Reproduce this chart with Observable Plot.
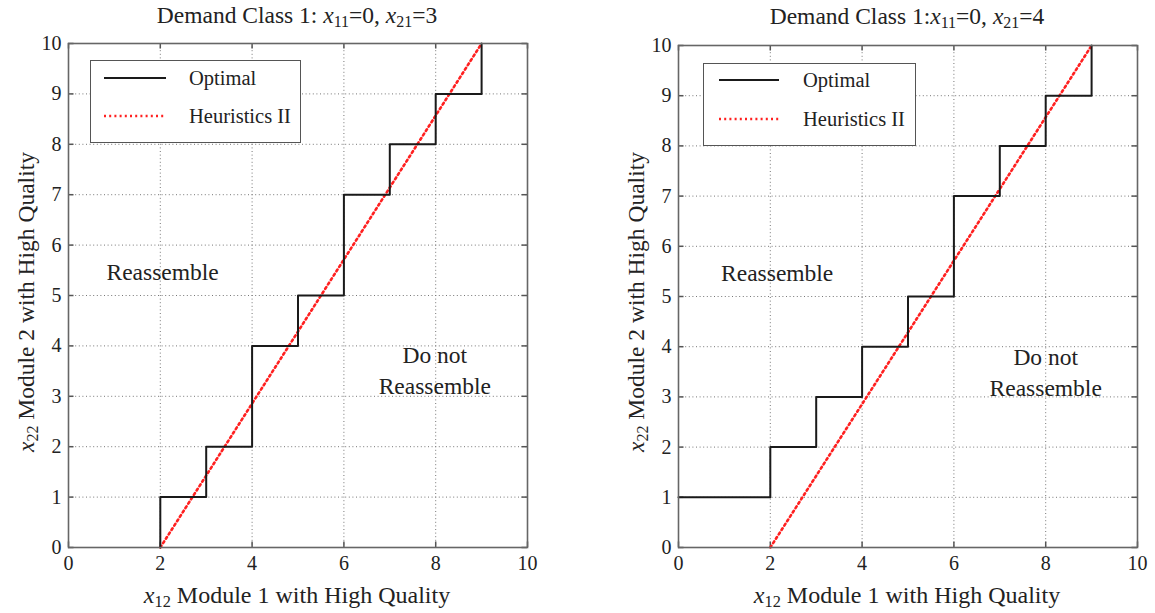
<!DOCTYPE html>
<html><head><meta charset="utf-8">
<script src="https://cdn.jsdelivr.net/npm/d3@7"></script>
<script src="https://cdn.jsdelivr.net/npm/@observablehq/plot@0.6"></script>
<style>
body{margin:0;background:#fff;font-family:"Liberation Serif","Times New Roman",serif;color:#222}
#wrap{position:relative;width:1155px;height:613px;overflow:hidden;background:#fff}
.panel{position:absolute;top:0}
.lbl{position:absolute;white-space:nowrap;transform:translate(-50%,-50%);line-height:1}
.title{font-size:23.5px}
.xlab{font-size:24px}
.ylab{font-size:23.5px;transform:translate(-50%,-50%) rotate(-90deg)}
sub{font-size:0.68em;vertical-align:-0.25em;line-height:0}
.legend{position:absolute;background:#fff;border:1.3px solid #555;box-sizing:border-box}
.legend svg{position:absolute;left:0;top:0}
.legend span{position:absolute;font-size:20.5px;transform:translateY(-50%);white-space:nowrap}
</style>
</head><body>
<div id="wrap"></div>
<script>
// ---- data ----
const xTicks = [0, 2, 4, 6, 8, 10];
const yTicks = [0, 1, 2, 3, 4, 5, 6, 7, 8, 9, 10];

// Optimal threshold (step-before corners), panel 1 (x21=3)
const opt1X = [2, 3, 4, 5, 6, 7, 8, 9, 9];
const opt1Y = [0, 1, 2, 4, 5, 7, 8, 9, 10];
// Optimal threshold, panel 2 (x21=4)
const opt2X = [0, 2, 3, 4, 5, 6, 7, 8, 9, 9];
const opt2Y = [1, 1, 2, 3, 4, 5, 7, 8, 9, 10];
// Heuristics II (straight line)
const heurX = [2, 9];
const heurY = [0, 10];

const seriesNames = ["Optimal", "Heuristics II"];
const regionLabels = ["Reassemble", "Do not\nReassemble"];
const region1X = [2.05, 7.98];
const region1Y = [5.5, 3.55];
const region2X = [2.15, 8.0];
const region2Y = [5.5, 3.52];

const titles = [
  'Demand Class 1: <i>x</i><sub>11</sub>=0, <i>x</i><sub>21</sub>=3',
  'Demand Class 1:<i>x</i><sub>11</sub>=0, <i>x</i><sub>21</sub>=4'
];
const xLabel = '<i>x</i><sub>12</sub> Module 1 with High Quality';
const yLabel = '<i>x</i><sub>22</sub> Module 2 with High Quality';

// ---- build ----
const toPts = (xs, ys) => xs.map((x, i) => ({x, y: ys[i]}));
const wrap = document.getElementById("wrap");

function makePanel(opt, regX, regY, width, marginRight, marginTop) {
  const grid = {stroke: "#777", strokeOpacity: 1, strokeWidth: 1, strokeDasharray: "1,2.6"};
  return Plot.plot({
    width, height: 613,
    marginLeft: 68, marginRight, marginTop, marginBottom: 66,
    x: {domain: [0, 10]},
    y: {domain: [0, 10]},
    style: {fontFamily: '"Liberation Serif", "Times New Roman", serif', fontSize: "20px", color: "#222", background: "transparent"},
    marks: [
      Plot.gridX(xTicks, grid),
      Plot.gridY(yTicks, grid),
      Plot.ruleX(xTicks, {y1: 0, y2: 0.11, stroke: "#555", strokeWidth: 1.5}),
      Plot.ruleX(xTicks, {y1: 9.89, y2: 10, stroke: "#555", strokeWidth: 1.5}),
      Plot.ruleY(yTicks, {x1: 0, x2: 0.12, stroke: "#555", strokeWidth: 1.5}),
      Plot.ruleY(yTicks, {x1: 9.88, x2: 10, stroke: "#555", strokeWidth: 1.5}),
      Plot.line(toPts(heurX, heurY), {x: "x", y: "y", stroke: "#ff2020", strokeWidth: 2.6, strokeDasharray: "2,3.2"}),
      Plot.line(opt, {x: "x", y: "y", curve: "step-before", stroke: "#1a1a1a", strokeWidth: 2}),
      Plot.text(regionLabels.map((t, i) => ({t, x: regX[i], y: regY[i]})),
        {x: "x", y: "y", text: "t", fontSize: 23.5, fill: "#222", lineHeight: 1.3}),
      Plot.frame({stroke: "#666", strokeWidth: 1.6}),
      Plot.axisX(xTicks, {tickSize: 0, tickPadding: 8, label: null, fontSize: 20, tickFormat: d3.format("d")}),
      Plot.axisY(yTicks, {tickSize: 0, tickPadding: 7, label: null, fontSize: 20, tickFormat: d3.format("d")})
    ]
  });
}

function addLabel(cls, html, cx, cy) {
  const d = document.createElement("div");
  d.className = "lbl " + cls;
  d.innerHTML = html;
  d.style.left = cx + "px";
  d.style.top = cy + "px";
  wrap.appendChild(d);
}

function addLegend(left, top, w, h, lineX0, lineX1, textX, y1, y2) {
  const box = document.createElement("div");
  box.className = "legend";
  box.style.left = left + "px"; box.style.top = top + "px";
  box.style.width = w + "px"; box.style.height = h + "px";
  const svg = d3.create("svg").attr("width", w).attr("height", h);
  svg.append("line").attr("x1", lineX0).attr("x2", lineX1).attr("y1", y1).attr("y2", y1)
    .attr("stroke", "#1a1a1a").attr("stroke-width", 2.2);
  svg.append("line").attr("x1", lineX0).attr("x2", lineX1).attr("y1", y2).attr("y2", y2)
    .attr("stroke", "#ff2020").attr("stroke-width", 2.6).attr("stroke-dasharray", "2,3.2");
  box.appendChild(svg.node());
  [y1, y2].forEach((y, i) => {
    const s = document.createElement("span");
    s.textContent = seriesNames[i];
    s.style.left = textX + "px"; s.style.top = y + "px";
    box.appendChild(s);
  });
  wrap.appendChild(box);
}

const p1 = makePanel(toPts(opt1X, opt1Y), region1X, region1Y, 577, 50, 43);
p1.classList.add("panel"); p1.style.left = "0px";
wrap.appendChild(p1);
const p2 = makePanel(toPts(opt2X, opt2Y), region2X, region2Y, 545, 18, 45);
p2.classList.add("panel"); p2.style.left = "610px";
wrap.appendChild(p2);

addLabel("title", titles[0], 297, 16);
addLabel("title", titles[1], 907, 17);
addLabel("xlab", xLabel, 297, 595);
addLabel("xlab", xLabel, 907, 595);
addLabel("ylab", yLabel, 27, 302);
addLabel("ylab", yLabel, 637, 302);

addLegend(90, 60, 211, 83, 13, 75, 98, 17, 55);
addLegend(703, 63, 213, 83, 15, 75, 99, 16, 55);
</script>
</body></html>
